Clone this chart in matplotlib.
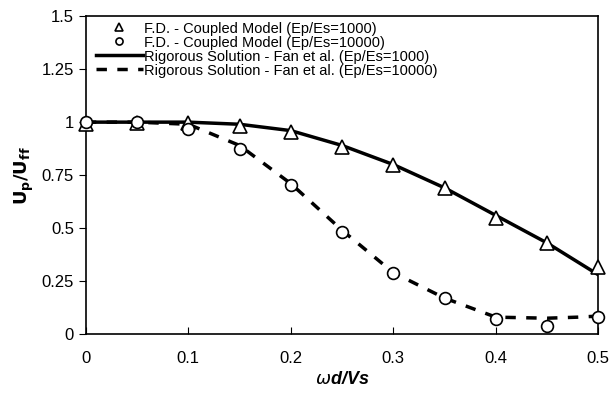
import matplotlib.pyplot as plt
from matplotlib.ticker import FixedLocator, FixedFormatter

plt.rcParams['font.family'] = ['Liberation Sans', 'DejaVu Sans']

# 无量纲频率
x = [0, 0.05, 0.1, 0.15, 0.2, 0.25, 0.3, 0.35, 0.4, 0.45, 0.5]
# F.D. 耦合模型
fd_1000 = [0.99, 0.995, 0.995, 0.98, 0.955, 0.885, 0.80, 0.69, 0.55, 0.43, 0.315]
fd_10000 = [1.0, 1.0, 0.97, 0.875, 0.705, 0.48, 0.29, 0.17, 0.07, 0.04, 0.08]
# Fan et al. 严格解
fan_x = [0, 0.05, 0.1, 0.15, 0.2, 0.25, 0.3, 0.35, 0.4, 0.45, 0.48, 0.5]
fan_1000 = [1.0, 1.0, 1.0, 0.99, 0.96, 0.89, 0.80, 0.69, 0.56, 0.43, 0.34, 0.28]
fan_10000 = [1.0, 1.0, 0.99, 0.89, 0.71, 0.49, 0.29, 0.17, 0.08, 0.075, 0.08, 0.085]

yticks = [0, 0.25, 0.5, 0.75, 1, 1.25, 1.5]
ytick_labels = ['0', '0.25', '0.5', '0.75', '1', '1.25', '1.5']
xticks = [0, 0.1, 0.2, 0.3, 0.4, 0.5]
xtick_labels = ['0', '0.1', '0.2', '0.3', '0.4', '0.5']

fig = plt.figure(figsize=(6.13, 4.04), dpi=100)
ax = fig.add_axes([0.140, 0.173, 0.836, 0.787])

ax.plot(x, fd_1000, linestyle='none', marker='^', markersize=10, markerfacecolor='white',
        markeredgecolor='black', markeredgewidth=1.2, label='F.D. - Coupled Model (Ep/Es=1000)',
        zorder=3, clip_on=False)
ax.plot(x, fd_10000, linestyle='none', marker='o', markersize=8.5, markerfacecolor='white',
        markeredgecolor='black', markeredgewidth=1.2, label='F.D. - Coupled Model (Ep/Es=10000)',
        zorder=3, clip_on=False)
ax.plot(fan_x, fan_1000, color='black', linewidth=2.5, label='Rigorous Solution - Fan et al. (Ep/Es=1000)')
ax.plot(fan_x, fan_10000, color='black', linewidth=2.5, linestyle=(0, (3, 3)),
        label='Rigorous Solution - Fan et al. (Ep/Es=10000)')

ax.set_xlim(0, 0.5)
ax.set_ylim(0, 1.5)
ax.yaxis.set_major_locator(FixedLocator(yticks))
ax.yaxis.set_major_formatter(FixedFormatter(ytick_labels))
ax.xaxis.set_major_locator(FixedLocator(xticks))
ax.xaxis.set_major_formatter(FixedFormatter(xtick_labels))
ax.tick_params(axis='x', direction='in', length=5, labelsize=12, pad=12)
ax.tick_params(axis='y', direction='out', length=5, labelsize=12)
for s in ax.spines.values():
    s.set_linewidth(1.2)

ax.set_ylabel(r'$\mathbf{U_p/U_{ff}}$', fontsize=13, labelpad=4)
ax.set_xlabel(r'$\omega$d/Vs', fontsize=13, fontweight='bold', style='italic', labelpad=4)

ax.legend(loc='upper left', frameon=False, fontsize=10.5, handlelength=3.2, handletextpad=0.1,
          labelspacing=0.0, borderaxespad=0.3, bbox_to_anchor=(0.0, 1.015), markerscale=0.6)

fig.savefig('out.png', dpi=100)
